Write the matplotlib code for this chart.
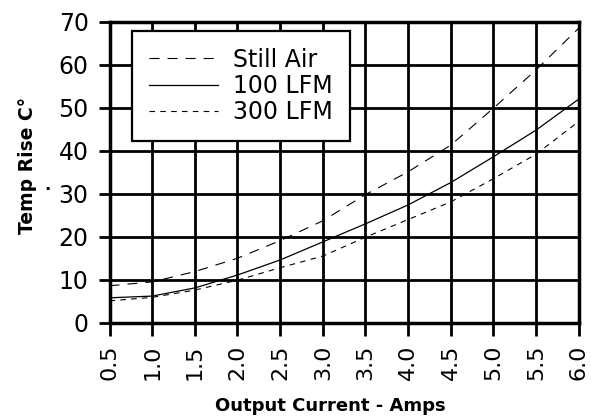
import numpy as np
import matplotlib
matplotlib.use("Agg")
from matplotlib import pyplot as plt

plt.rcParams['font.family'] = ['DejaVu Sans']
plt.rcParams['lines.scale_dashes'] = False

# values
current = [0.5, 1.0, 1.5, 2.0, 2.5, 3.0, 3.5, 4.0, 4.5, 5.0, 5.5, 6.0]
still_air = [8.6, 9.5, 11.9, 15.0, 19.1, 23.7, 29.8, 35.1, 41.3, 49.9, 58.8, 68.5]
lfm_100 = [5.8, 6.2, 8.1, 11.1, 14.6, 18.8, 23.0, 27.4, 32.6, 38.6, 44.8, 52.0]
lfm_300 = [5.1, 5.9, 7.6, 9.9, 12.8, 15.5, 19.9, 24.0, 28.1, 33.5, 39.2, 46.8]
names = ['Still Air', '100 LFM', '300 LFM']
xticks = [0.5, 1.0, 1.5, 2.0, 2.5, 3.0, 3.5, 4.0, 4.5, 5.0, 5.5, 6.0]
yticks = [0, 10, 20, 30, 40, 50, 60, 70]

fig = plt.figure(figsize=(5.91, 4.17), dpi=100)
ax = fig.add_axes([0.1853, 0.226, 0.794, 0.722])

ax.plot(current, still_air, color='black', lw=0.8, dashes=(7.2, 5.8), label=names[0])
ax.plot(current, lfm_100, color='black', lw=0.9, label=names[1])
ax.plot(current, lfm_300, color='black', lw=0.8, dashes=(4.0, 3.8), label=names[2])

ax.set_xlim(0.5, 6.0)
ax.set_ylim(0, 70)
ax.set_xticks(xticks)
ax.set_yticks(yticks)
ax.set_xticklabels(['%.1f' % v for v in xticks], rotation=90)
ax.tick_params(axis='x', length=9.5, width=2.0, pad=6, labelsize=16)
ax.tick_params(axis='y', length=8, width=2.0, pad=7, labelsize=17)
ax.grid(True, color='black', lw=2.0)
ax.set_axisbelow(True)
for s in ax.spines.values():
    s.set_linewidth(2.5)

ax.set_xlabel('Output Current - Amps', fontsize=13, fontweight='bold')
ax.xaxis.set_label_coords(0.471, -0.245)
ax.set_ylabel('Temp Rise C°', fontsize=13.5, fontweight='bold')
ax.yaxis.set_label_coords(-0.155, 0.524)
fig.text(47 / 591, 1 - 185 / 417, '.', fontsize=12, fontweight='bold', ha='center', va='center')

leg = ax.legend(loc='upper left', bbox_to_anchor=(0.048, 0.97), fontsize=17,
                fancybox=False, framealpha=1, edgecolor='black', handlelength=2.9,
                handletextpad=0.65, borderpad=0.72, labelspacing=0.1, borderaxespad=0)
leg.get_frame().set_linewidth(1.6)

fig.savefig('out.png', dpi=100)
